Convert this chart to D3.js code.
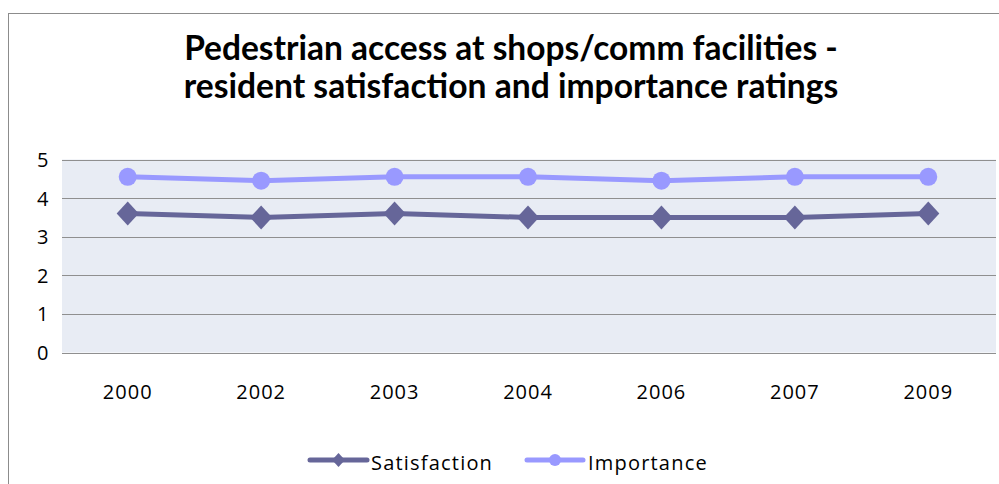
<!DOCTYPE html>
<html>
<head>
<meta charset="utf-8">
<script src="https://cdn.jsdelivr.net/npm/d3@7"></script>
<style>
  html, body { margin: 0; padding: 0; background: #fff; }
  svg { display: block; }
</style>
</head>
<body>
<svg id="chart" width="999" height="484"></svg>
<script>
const titleLines = ["Pedestrian access at shops/comm facilities -", "resident satisfaction and importance ratings"];
const years = ["2000", "2002", "2003", "2004", "2006", "2007", "2009"];
const satisfaction = [3.6, 3.5, 3.6, 3.5, 3.5, 3.5, 3.6];
const importance = [4.55, 4.45, 4.55, 4.55, 4.45, 4.55, 4.55];
const yTicks = [0, 1, 2, 3, 4, 5];
const seriesNames = ["Satisfaction", "Importance"];

const svg = d3.select("#chart");
const colSat = "#666699", colImp = "#9999FF";
const bodyFont = "'Open Sans', sans-serif";

// frame
svg.append("rect").attr("x", 8.5).attr("y", 13.5).attr("width", 1100).attr("height", 600)
  .attr("fill", "#fff").attr("stroke", "#8c8c8c").attr("stroke-width", 1);

// title
const title = svg.append("g");
titleLines.forEach((t, i) => {
  const el = title.append("text").attr("x", 511).attr("y", 60 + i * 38)
    .attr("text-anchor", "middle").attr("font-family", "Lato, 'Open Sans', sans-serif")
    .attr("font-weight", "bold").attr("font-size", 30).attr("fill", "#000").text(t);
  const w = el.node().getComputedTextLength();
  const target = i === 0 ? 654 : 655;
  el.attr("font-size", Math.min(34, 30 * target / w));
});

const x = d3.scaleBand().domain(years).range([61, 995]).padding(0);
const y = d3.scaleLinear().domain([0, 5]).range([352.5, 159.5]);

// plot bg
svg.append("rect").attr("x", 62).attr("y", y(5)).attr("width", 996 - 62).attr("height", y(0) - y(5))
  .attr("fill", "#E8ECF4");

// gridlines
svg.append("g").selectAll("line").data(yTicks).join("line")
  .attr("x1", 62).attr("x2", 996)
  .attr("y1", d => Math.round(y(d)) + 0.5).attr("y2", d => Math.round(y(d)) + 0.5)
  .attr("stroke", "#8f8f8f").attr("stroke-width", 1.2);

// y axis labels
const yAxis = svg.append("g").attr("transform", "translate(50,0)")
  .call(d3.axisLeft(y).tickValues(yTicks).tickSize(0).tickPadding(0).tickFormat(d3.format("d")));
yAxis.select(".domain").remove();
yAxis.selectAll("text").attr("font-family", bodyFont).attr("font-size", 20).attr("fill", "#000")
  .attr("x", -13).attr("dy", "0.35em").attr("text-anchor", "start");

// x axis labels
const xAxis = svg.append("g").attr("transform", "translate(0,399)")
  .call(d3.axisBottom(x).tickSize(0).tickPadding(0));
xAxis.select(".domain").remove();
xAxis.selectAll("text").attr("font-family", bodyFont).attr("font-size", 20).attr("fill", "#000")
  .attr("letter-spacing", 1).attr("dy", 0).attr("y", 0);

const cx = d => x(d) + x.bandwidth() / 2;
const line = d3.line().x(d => cx(d.year)).y(d => y(d.v));

const satData = years.map((yr, i) => ({ year: yr, v: satisfaction[i] }));
const impData = years.map((yr, i) => ({ year: yr, v: importance[i] }));

// importance series
svg.append("path").datum(impData).attr("d", line).attr("fill", "none")
  .attr("stroke", colImp).attr("stroke-width", 5).attr("stroke-linejoin", "round");
svg.append("g").selectAll("circle").data(impData).join("circle")
  .attr("cx", d => cx(d.year)).attr("cy", d => y(d.v)).attr("r", 9).attr("fill", colImp);

// satisfaction series
svg.append("path").datum(satData).attr("d", line).attr("fill", "none")
  .attr("stroke", colSat).attr("stroke-width", 5).attr("stroke-linejoin", "round");
const diamond = (s) => `M0,${-s}L${s * 0.92},0L0,${s}L${-s * 0.92},0Z`;
svg.append("g").selectAll("path").data(satData).join("path")
  .attr("transform", d => `translate(${cx(d.year)},${y(d.v)})`)
  .attr("d", diamond(12)).attr("fill", colSat);

// legend
const legend = svg.append("g");
const legY = 460;
const items = [
  { name: seriesNames[0], color: colSat, x0: 310, x1: 367, textX: 371, marker: "diamond" },
  { name: seriesNames[1], color: colImp, x0: 527, x1: 583, textX: 588, marker: "circle" }
];
items.forEach(it => {
  legend.append("line").attr("x1", it.x0).attr("x2", it.x1).attr("y1", legY).attr("y2", legY)
    .attr("stroke", it.color).attr("stroke-width", 5).attr("stroke-linecap", "round");
  const mx = (it.x0 + it.x1) / 2;
  if (it.marker === "diamond") {
    legend.append("path").attr("transform", `translate(${mx},${legY})`).attr("d", diamond(7)).attr("fill", it.color);
  } else {
    legend.append("circle").attr("cx", mx).attr("cy", legY).attr("r", 6).attr("fill", it.color);
  }
  legend.append("text").attr("x", it.textX).attr("y", 470).attr("font-family", bodyFont)
    .attr("font-size", 20).attr("letter-spacing", 1.2).attr("fill", "#000").text(it.name);
});
</script>
</body>
</html>
